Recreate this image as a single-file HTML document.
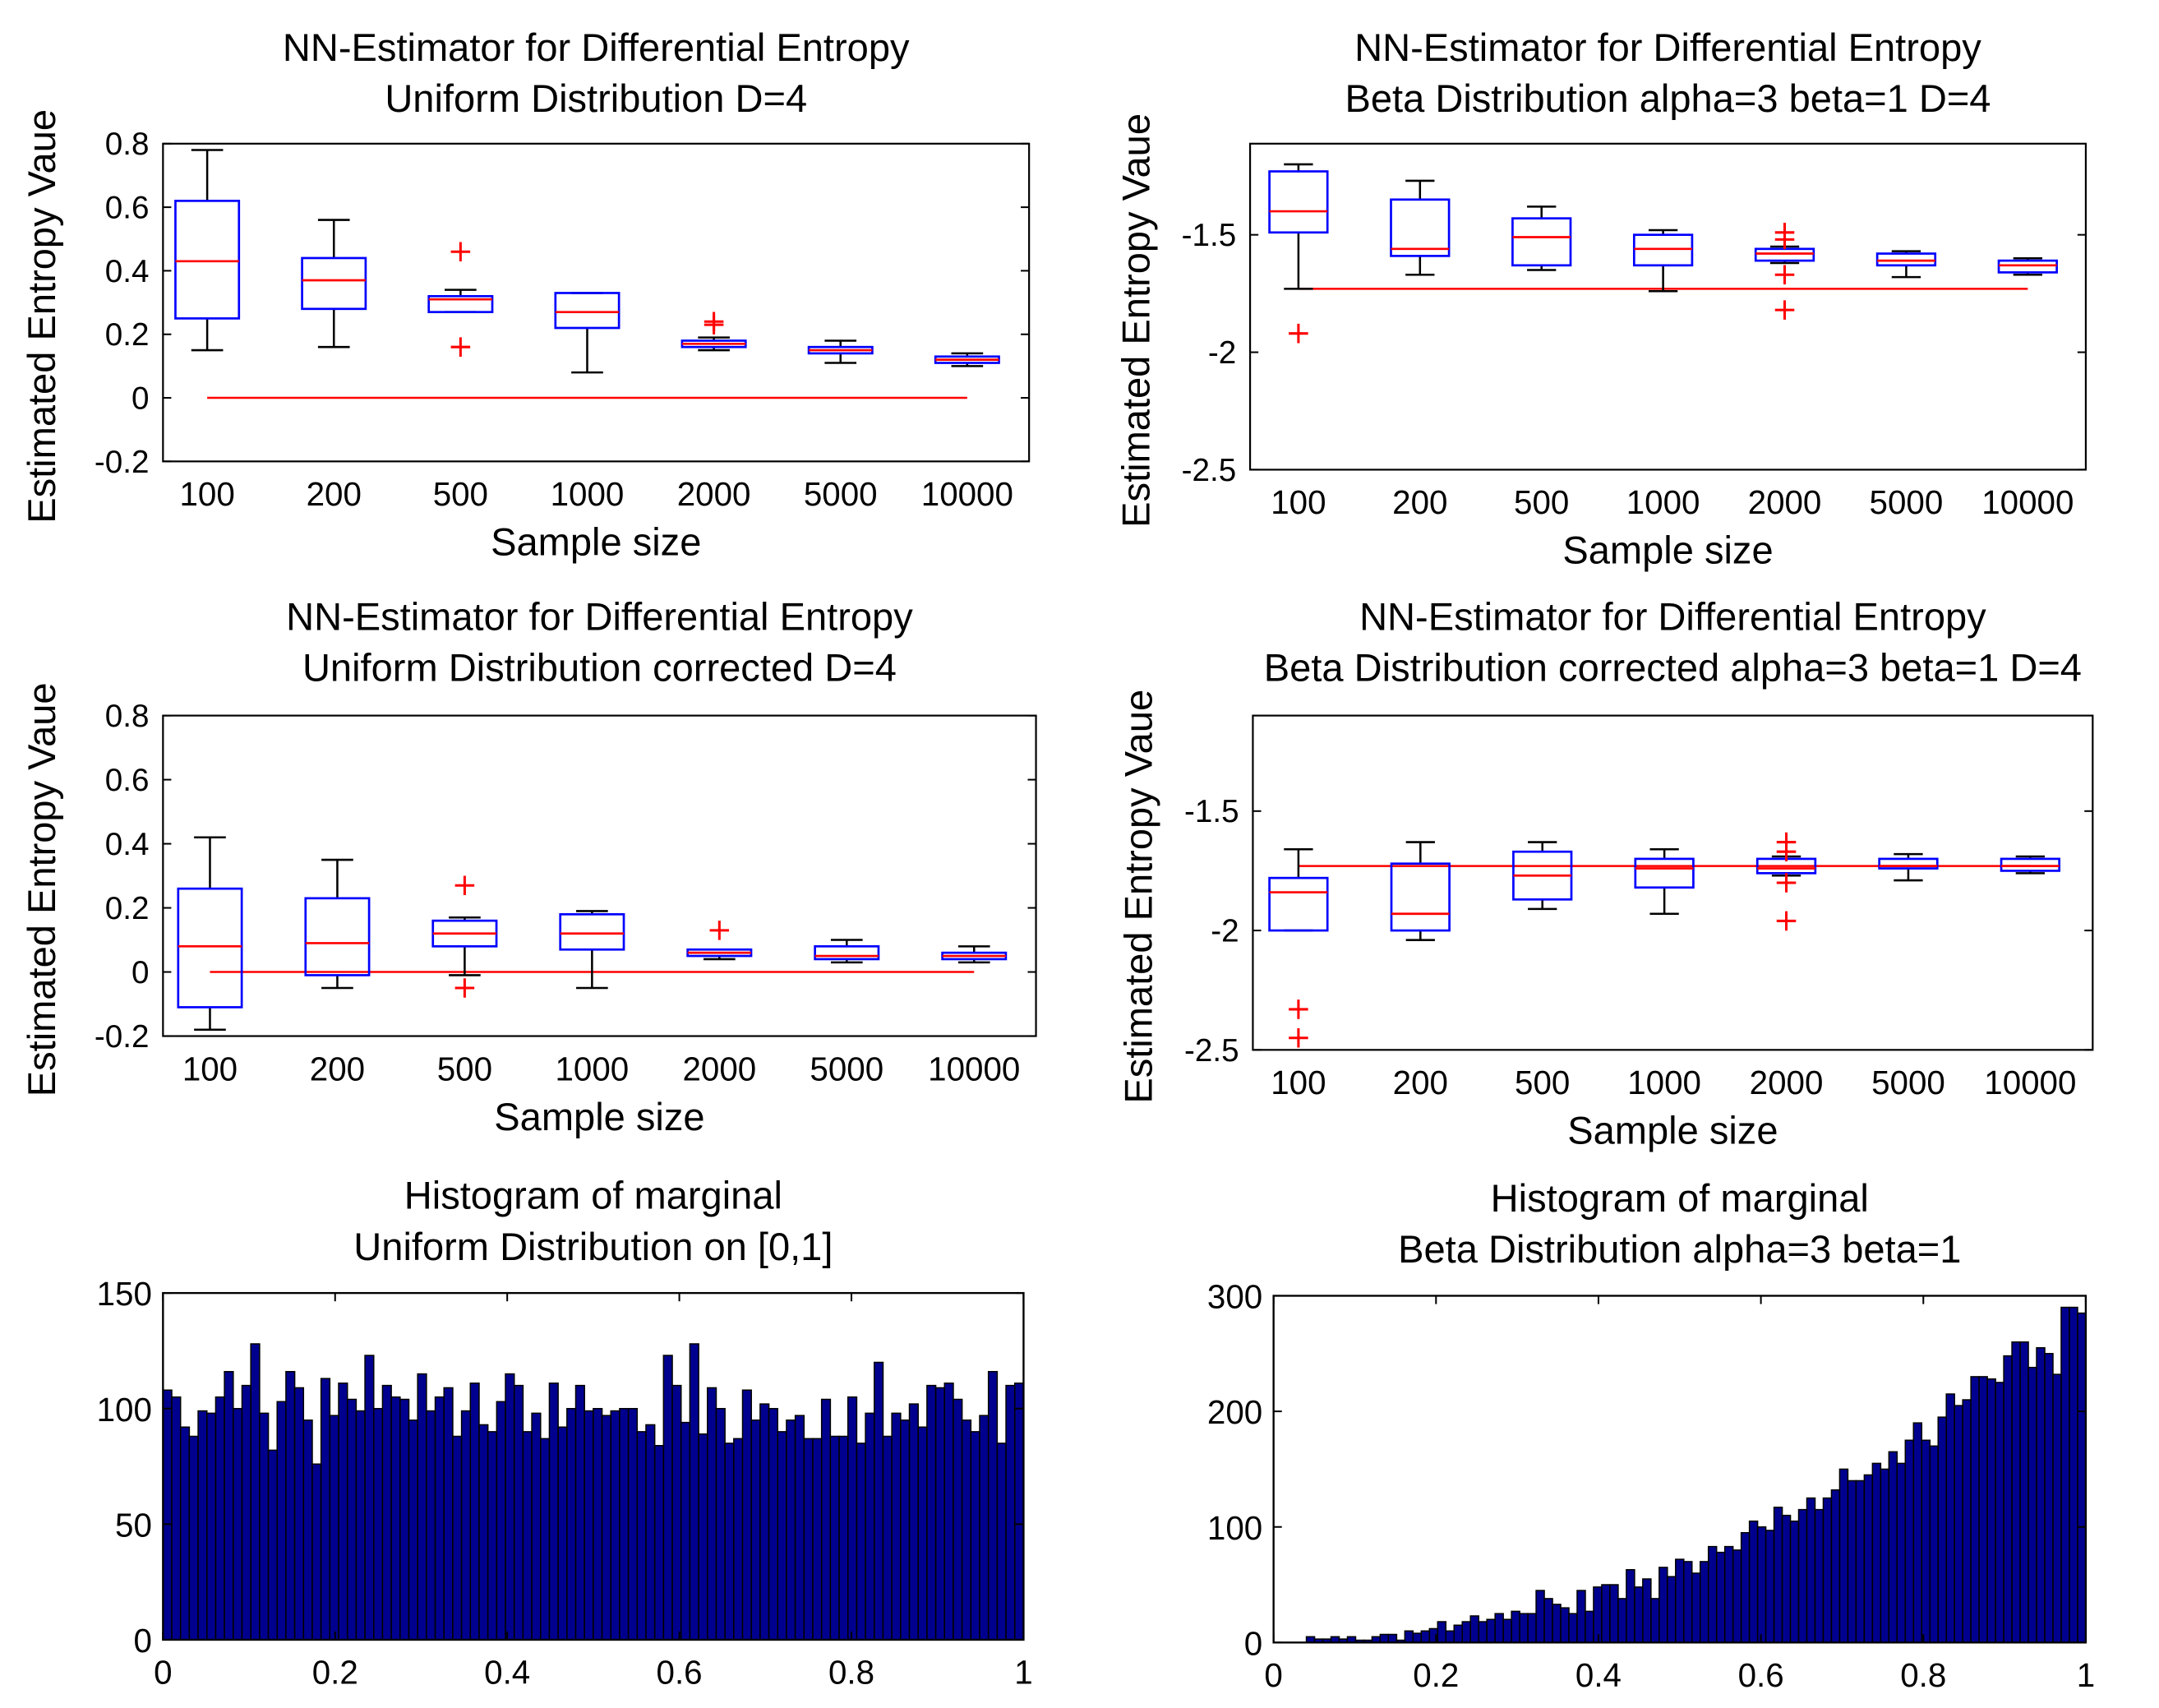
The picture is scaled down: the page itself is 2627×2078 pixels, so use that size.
<!DOCTYPE html>
<html><head><meta charset="utf-8"><style>
html,body{margin:0;padding:0;background:#fff}
svg{display:block}
text{font-family:"Liberation Sans",sans-serif;fill:#000}
</style></head><body>
<svg id="fig" xmlns="http://www.w3.org/2000/svg" width="2627" height="2078" viewBox="0 0 1563 1236.4" preserveAspectRatio="none"></svg>
<script>
const cats = ["100","200","500","1000","2000","5000","10000"];
// panel 1: uniform
const p1Lo=[0.15,0.16,0.27,0.08,0.15,0.11,0.10];
const p1Q1=[0.25,0.28,0.27,0.22,0.16,0.14,0.11];
const p1Med=[0.43,0.37,0.31,0.27,0.17,0.15,0.12];
const p1Q3=[0.62,0.44,0.32,0.33,0.18,0.16,0.13];
const p1Hi=[0.78,0.56,0.34,0.33,0.19,0.18,0.14];
const p1Out=[[],[],[0.46,0.16],[],[0.23,0.24],[],[]];
const p1Ref=0;
// panel 2: beta
const p2Lo=[-1.73,-1.67,-1.65,-1.74,-1.62,-1.68,-1.67];
const p2Q1=[-1.49,-1.59,-1.63,-1.63,-1.61,-1.63,-1.66];
const p2Med=[-1.40,-1.56,-1.51,-1.56,-1.58,-1.61,-1.63];
const p2Q3=[-1.23,-1.35,-1.43,-1.50,-1.56,-1.58,-1.61];
const p2Hi=[-1.20,-1.27,-1.38,-1.48,-1.55,-1.57,-1.60];
const p2Out=[[-1.92],[],[],[],[-1.49,-1.52,-1.67,-1.82],[],[]];
const p2Ref=-1.73;
// panel 3: uniform corrected
const p3Lo=[-0.18,-0.05,-0.01,-0.05,0.04,0.03,0.03];
const p3Q1=[-0.11,-0.01,0.08,0.07,0.05,0.04,0.04];
const p3Med=[0.08,0.09,0.12,0.12,0.06,0.05,0.05];
const p3Q3=[0.26,0.23,0.16,0.18,0.07,0.08,0.06];
const p3Hi=[0.42,0.35,0.17,0.19,0.07,0.10,0.08];
const p3Out=[[],[],[0.27,-0.05],[],[0.13],[],[]];
const p3Ref=0;
// panel 4: beta corrected
const p4Lo=[-2.0,-2.04,-1.91,-1.93,-1.77,-1.79,-1.76];
const p4Q1=[-2.0,-2.0,-1.87,-1.82,-1.76,-1.74,-1.75];
const p4Med=[-1.84,-1.93,-1.77,-1.74,-1.74,-1.73,-1.73];
const p4Q3=[-1.78,-1.72,-1.67,-1.70,-1.70,-1.70,-1.70];
const p4Hi=[-1.66,-1.63,-1.63,-1.66,-1.69,-1.68,-1.69];
const p4Out=[[-2.33,-2.45],[],[],[],[-1.63,-1.67,-1.80,-1.96],[],[]];
const p4Ref=-1.73;
// histograms
const histU=[108,105,92,88,99,98,105,116,100,110,128,98,82,103,116,109,95,76,113,97,111,104,99,123,100,110,105,104,95,115,99,105,109,88,99,111,93,90,103,115,110,90,98,87,111,92,100,110,99,100,97,99,100,100,90,93,84,123,110,94,128,89,109,100,85,87,108,95,102,100,90,95,97,87,87,104,88,88,105,85,98,120,88,98,95,102,92,110,109,111,104,95,90,97,116,85,110,111];
const histB=[0,0,0,0,5,3,3,5,3,5,2,2,5,7,7,2,10,8,10,12,18,10,15,18,23,18,20,25,20,27,25,25,45,38,33,30,25,45,27,48,50,50,38,63,48,55,38,65,57,72,70,60,70,83,78,83,80,95,105,100,97,117,110,105,115,125,115,125,132,150,140,140,145,155,150,165,155,175,190,175,170,195,215,205,210,230,230,228,225,248,260,260,238,255,250,232,290,290,285];
const histTicksU=[0,50,100,150];
const histTicksB=[0,100,200,300];
const xTicksH=[0,0.2,0.4,0.6,0.8,1];

const NS="http://www.w3.org/2000/svg";
const svg=document.getElementById('fig');
function mk(tag,attrs,parent){const e=document.createElementNS(NS,tag);for(const k in attrs)e.setAttribute(k,attrs[k]);(parent||svg).appendChild(e);return e;}
function txt(s,x,y,size,anchor,parent,extra){const t=mk('text',Object.assign({x:x,y:y,'font-size':size,'text-anchor':anchor||'middle'},extra||{}),parent);t.textContent=s;return t;}

function boxPanel(cfg){
  const g=mk('g',{});
  
  
  const {L,R,T,B,ymin,ymax,x1,dx}=cfg;
  const Y=v=>B-(v-ymin)/(ymax-ymin)*(B-T);
  const X=i=>x1+i*dx;
  mk('rect',{x:L,y:T,width:R-L,height:B-T,fill:'#fff',stroke:'#000','stroke-width':1.3},g);
  cfg.yticks.forEach((v,i)=>{
    const y=Y(v);
    mk('line',{x1:L,y1:y,x2:L+6,y2:y,stroke:'#000','stroke-width':1.2},g);
    mk('line',{x1:R,y1:y,x2:R-6,y2:y,stroke:'#000','stroke-width':1.2},g);
    const t=txt(cfg.ylabels[i],L-10,y+8,23,'end',g);
    
    
  });
  cats.forEach((c,i)=>{
    const t=txt(c,X(i),B+32,24,'middle',g);
    
    
  });
  const ref=mk('line',{x1:X(0),y1:Y(cfg.ref),x2:X(6),y2:Y(cfg.ref),stroke:'#f00','stroke-width':1.5},g);
  
  
  const hw=cfg.bw/2, ww=cfg.bw/4;
  cats.forEach((c,i)=>{
    const x=X(i);
    const bg=mk('g',{},g);
    
    
    mk('line',{x1:x,y1:Y(cfg.hi[i]),x2:x,y2:Y(cfg.q3[i]),stroke:'#000','stroke-width':1.5},bg);
    mk('line',{x1:x,y1:Y(cfg.lo[i]),x2:x,y2:Y(cfg.q1[i]),stroke:'#000','stroke-width':1.5},bg);
    mk('line',{x1:x-ww,y1:Y(cfg.hi[i]),x2:x+ww,y2:Y(cfg.hi[i]),stroke:'#000','stroke-width':1.5},bg);
    mk('line',{x1:x-ww,y1:Y(cfg.lo[i]),x2:x+ww,y2:Y(cfg.lo[i]),stroke:'#000','stroke-width':1.5},bg);
    mk('rect',{x:x-hw,y:Y(cfg.q3[i]),width:cfg.bw,height:Math.max(1,Y(cfg.q1[i])-Y(cfg.q3[i])),fill:'none',stroke:'#00f','stroke-width':1.6},bg);
    mk('line',{x1:x-hw,y1:Y(cfg.med[i]),x2:x+hw,y2:Y(cfg.med[i]),stroke:'#f00','stroke-width':1.6},bg);
    cfg.out[i].forEach(o=>{
      const y=Y(o);
      mk('path',{d:`M${x-7},${y}H${x+7}M${x},${y-7}V${y+7}`,stroke:'#f00','stroke-width':1.8},bg);
    });
  });
  cfg.title.forEach((s,k)=>{const t=txt(s,(L+R)/2,cfg.titleY+k*37,28,'middle',g);});
  const xl=txt('Sample size',(L+R)/2,B+68,28,'middle',g);
  
  const yl=txt('Estimated Entropy Vaue',0,0,28,'middle',g,{transform:`translate(${cfg.ylx},${(T+B)/2+10}) rotate(-90)`});
  
}

boxPanel({name:'panel-uniform',L:118,R:745,T:104,B:334,ymin:-0.2,ymax:0.8,x1:150,dx:91.7,bw:46,
  yticks:[-0.2,0,0.2,0.4,0.6,0.8],ylabels:['-0.2','0','0.2','0.4','0.6','0.8'],
  lo:p1Lo,q1:p1Q1,med:p1Med,q3:p1Q3,hi:p1Hi,out:p1Out,ref:p1Ref,
  title:['NN-Estimator for Differential Entropy','Uniform Distribution D=4'],titleY:44,ylx:40});
boxPanel({name:'panel-beta',L:905,R:1510,T:104,B:340,ymin:-2.5,ymax:-1.112,x1:940,dx:88,bw:42,
  yticks:[-2.5,-2,-1.5],ylabels:['-2.5','-2','-1.5'],
  lo:p2Lo,q1:p2Q1,med:p2Med,q3:p2Q3,hi:p2Hi,out:p2Out,ref:p2Ref,
  title:['NN-Estimator for Differential Entropy','Beta Distribution alpha=3 beta=1 D=4'],titleY:44,ylx:832});
boxPanel({name:'panel-uniform-corrected',L:118,R:750,T:518,B:750,ymin:-0.2,ymax:0.8,x1:152,dx:92.2,bw:46,
  yticks:[-0.2,0,0.2,0.4,0.6,0.8],ylabels:['-0.2','0','0.2','0.4','0.6','0.8'],
  lo:p3Lo,q1:p3Q1,med:p3Med,q3:p3Q3,hi:p3Hi,out:p3Out,ref:p3Ref,
  title:['NN-Estimator for Differential Entropy','Uniform Distribution corrected D=4'],titleY:456,ylx:40});
boxPanel({name:'panel-beta-corrected',L:907,R:1515,T:518,B:760,ymin:-2.5,ymax:-1.1,x1:940,dx:88.3,bw:42,
  yticks:[-2.5,-2,-1.5],ylabels:['-2.5','-2','-1.5'],
  lo:p4Lo,q1:p4Q1,med:p4Med,q3:p4Q3,hi:p4Hi,out:p4Out,ref:p4Ref,
  title:['NN-Estimator for Differential Entropy','Beta Distribution corrected alpha=3 beta=1 D=4'],titleY:456,ylx:834});

function histPanel(cfg){
  const g=mk('g',{});
  
  
  const {L,R,T,B,ymax,vals}=cfg;
  const Y=v=>B-v/ymax*(B-T);
  const X=v=>L+v*(R-L);
  mk('rect',{x:L,y:T,width:R-L,height:B-T,fill:'#fff',stroke:'none'},g);
  const w=(R-L)/vals.length;
  vals.forEach((v,i)=>{
    if(v<=0)return;
    const r=mk('rect',{x:X(i/vals.length),y:Y(v),width:w,height:B-Y(v),fill:'#00008f',stroke:'#000','stroke-width':0.9},g);
    
    
  });
  mk('rect',{x:L,y:T,width:R-L,height:B-T,fill:'none',stroke:'#000','stroke-width':1.4},g);
  cfg.yticks.forEach(v=>{
    const y=Y(v);
    mk('line',{x1:L,y1:y,x2:L+6,y2:y,stroke:'#000','stroke-width':1.2},g);
    mk('line',{x1:R,y1:y,x2:R-6,y2:y,stroke:'#000','stroke-width':1.2},g);
    const t=txt(String(v),L-8,y+9,24,'end',g);
    
  });
  xTicksH.forEach(v=>{
    const x=X(v);
    mk('line',{x1:x,y1:T,x2:x,y2:T+6,stroke:'#000','stroke-width':1.2},g);
    mk('line',{x1:x,y1:B,x2:x,y2:B-6,stroke:'#000','stroke-width':1.2},g);
    const t=txt(String(v),x,B+32,24,'middle',g);
    
  });
  cfg.title.forEach((s,k)=>{const t=txt(s,(L+R)/2,cfg.titleY+k*37,28,'middle',g);});
}
histPanel({name:'hist-uniform',L:118,R:741,T:936,B:1187,ymax:150,vals:histU,yticks:histTicksU,
  title:['Histogram of marginal','Uniform Distribution on [0,1]'],titleY:875});
histPanel({name:'hist-beta',L:922,R:1510,T:938,B:1189,ymax:300,vals:histB,yticks:histTicksB,
  title:['Histogram of marginal','Beta Distribution alpha=3 beta=1'],titleY:877});
</script>
</body></html>
